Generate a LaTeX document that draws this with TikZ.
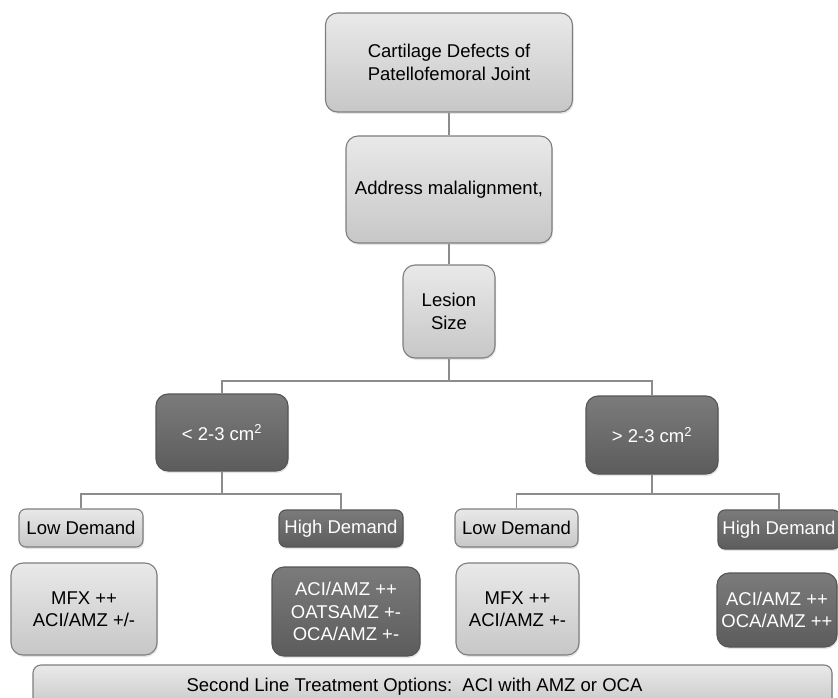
\documentclass[tikz,border=0pt]{standalone}
\usepackage{fontspec}
\setmainfont{Liberation Sans}
\usepackage{xcolor}
\usetikzlibrary{shadows}

\definecolor{lighttop}{HTML}{E9E9E9}
\definecolor{lightbot}{HTML}{C7C7C7}
\definecolor{lightline}{HTML}{7E7E7E}
\definecolor{darktop}{HTML}{7B7B7B}
\definecolor{darkbot}{HTML}{5C5C5C}
\definecolor{darkline}{HTML}{555555}
\definecolor{linkgray}{HTML}{8C8C8C}

\tikzset{
  lightbox/.style={draw=lightline, line width=1.1pt, rounded corners=12pt,
    top color=lighttop, bottom color=lightbot, align=center, inner sep=0pt,
    font=\fontsize{18.5}{22.5}\selectfont,
    drop shadow={shadow xshift=1pt, shadow yshift=-2pt, opacity=0.2}},
  darkbox/.style={lightbox, draw=darkline, top color=darktop, bottom color=darkbot,
    text=white},
  tagbox/.style={rounded corners=7pt},
  link/.style={draw=linkgray, line width=1.1pt}
}

\begin{document}
\begin{tikzpicture}[x=1pt,y=-1pt]
\useasboundingbox (0,0) rectangle (838,698);

\node[lightbox, minimum width=247, minimum height=99] (top) at (449,62.5) {Cartilage Defects of\\ Patellofemoral Joint};
\node[lightbox, minimum width=206, minimum height=107] (addr) at (449,189.5) {Address malalignment,};
\node[lightbox, minimum width=92, minimum height=93] (lesion) at (449,311.5) {Lesion\\Size};

\node[darkbox, minimum width=132, minimum height=77] (small) at (222,432.5) {< 2-3 cm\textsuperscript{2}};
\node[darkbox, minimum width=132, minimum height=78] (large) at (652,435) {> 2-3 cm\textsuperscript{2}};

\node[lightbox, tagbox, minimum width=124, minimum height=38] (lowL) at (81,528) {Low Demand};
\node[darkbox, tagbox, minimum width=124, minimum height=37] (highL) at (341,528.5) {High Demand};
\node[lightbox, tagbox, minimum width=123, minimum height=38] (lowR) at (516.5,528) {Low Demand};
\node[darkbox, tagbox, minimum width=122, minimum height=39] (highR) at (779,529.5) {High Demand};

\node[lightbox, minimum width=146, minimum height=92] (mfxL) at (84,609) {MFX ++\\ACI/AMZ +/-};
\node[darkbox, minimum width=148, minimum height=89] (aciL) at (346,611.5) {ACI/AMZ ++\\OATSAMZ +-\\OCA/AMZ +-};
\node[lightbox, minimum width=123, minimum height=92] (mfxR) at (517.5,609) {MFX ++\\ACI/AMZ +-};
\node[darkbox, minimum width=120, minimum height=74] (aciR) at (777,610) {ACI/AMZ ++\\OCA/AMZ ++};

\node[lightbox, rounded corners=8pt, minimum width=799, minimum height=44] (second) at (432.5,687) {};
\node[font=\fontsize{18.5}{22.5}\selectfont] (secondtext) at ([xshift=-18pt]second.center) {Second Line Treatment Options:\ \ ACI with AMZ or OCA};

\coordinate (splitA) at (449,381);
\coordinate (splitB) at (222,494);
\coordinate (splitC) at (652,494);

\draw[link] (top) -- (addr);
\draw[link] (addr) -- (lesion);
\draw[link] (lesion) -- (splitA) -| (small);
\draw[link] (splitA) -| (large);
\draw[link] (small) -- (splitB) -| (lowL);
\draw[link] (splitB) -| (highL);
\draw[link] (large) -- (splitC) -| (lowR);
\draw[link] (splitC) -| (highR);
\end{tikzpicture}
\end{document}
